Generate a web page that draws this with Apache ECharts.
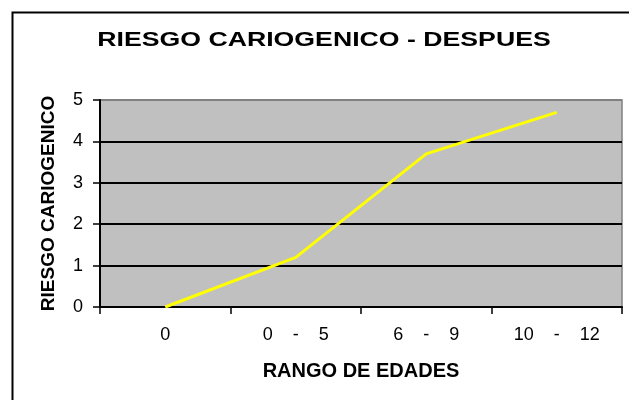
<!DOCTYPE html>
<html><head><meta charset="utf-8">
<script src="https://cdn.jsdelivr.net/npm/echarts@6/dist/echarts.min.js"></script>
<style>html,body{margin:0;padding:0;background:#fff}#c{width:629px;height:400px}</style>
</head><body><div id="c"></div>
<script>
const titleText = 'RIESGO CARIOGENICO - DESPUES';
const xName = 'RANGO DE EDADES';
const yName = 'RIESGO CARIOGENICO';
const categories = ['0', '0    -    5', '6    -    9', '10    -    12'];
const values = [0, 1.2, 3.7, 4.7];
const yTicks = [0, 1, 2, 3, 4, 5];

const FONT = '"Liberation Sans", Arial, Helvetica, sans-serif';
const chart = echarts.init(document.getElementById('c'), null, {renderer: 'canvas'});
chart.setOption({
  animation: false,
  backgroundColor: '#ffffff',
  graphic: [
    {type: 'rect', left: 10, top: 10, z: 0, silent: true,
     shape: {x: 0, y: 0, width: 700, height: 500},
     style: {fill: 'none', stroke: '#000', lineWidth: 2}},
    {type: 'text', x: 324, y: 40, scaleX: 1.27, z: 10,
     style: {text: titleText, font: 'bold 21px ' + FONT, fill: '#000',
             textAlign: 'center', textVerticalAlign: 'middle'}}
  ],
  grid: {left: 100, top: 100, right: 7, bottom: 93, show: true,
         backgroundColor: '#C0C0C0', borderColor: '#808080', borderWidth: 1.5},
  xAxis: {
    type: 'category', data: categories, boundaryGap: true,
    name: xName, nameLocation: 'middle', nameGap: 54,
    nameTextStyle: {fontFamily: FONT, fontWeight: 'bold', fontSize: 20, color: '#000'},
    axisLine: {lineStyle: {color: '#000', width: 2}},
    axisTick: {show: true, length: 7, alignWithLabel: false, lineStyle: {color: '#000', width: 1.5}},
    axisLabel: {fontFamily: FONT, fontSize: 18, color: '#000', margin: 19, interval: 0},
    splitLine: {show: false}
  },
  yAxis: {
    type: 'value', min: yTicks[0], max: yTicks[yTicks.length - 1], interval: yTicks[1] - yTicks[0],
    name: yName, nameLocation: 'middle', nameGap: 42, nameRotate: 90,
    nameTextStyle: {fontFamily: FONT, fontWeight: 'bold', fontSize: 19, color: '#000'},
    axisLine: {show: true, lineStyle: {color: '#000', width: 2}},
    axisTick: {show: true, length: 7, lineStyle: {color: '#000', width: 1.5}},
    axisLabel: {fontFamily: FONT, fontSize: 18, color: '#000', margin: 17,
                formatter: v => String(v)},
    splitLine: {show: true, lineStyle: {color: ['#000', '#000', '#000', '#000', '#000', '#808080'], width: 2}}
  },
  series: [{
    type: 'line', data: values, showSymbol: false, symbol: 'none',
    lineStyle: {color: '#FFFF00', width: 3}, z: 5
  }]
});
</script></body></html>
